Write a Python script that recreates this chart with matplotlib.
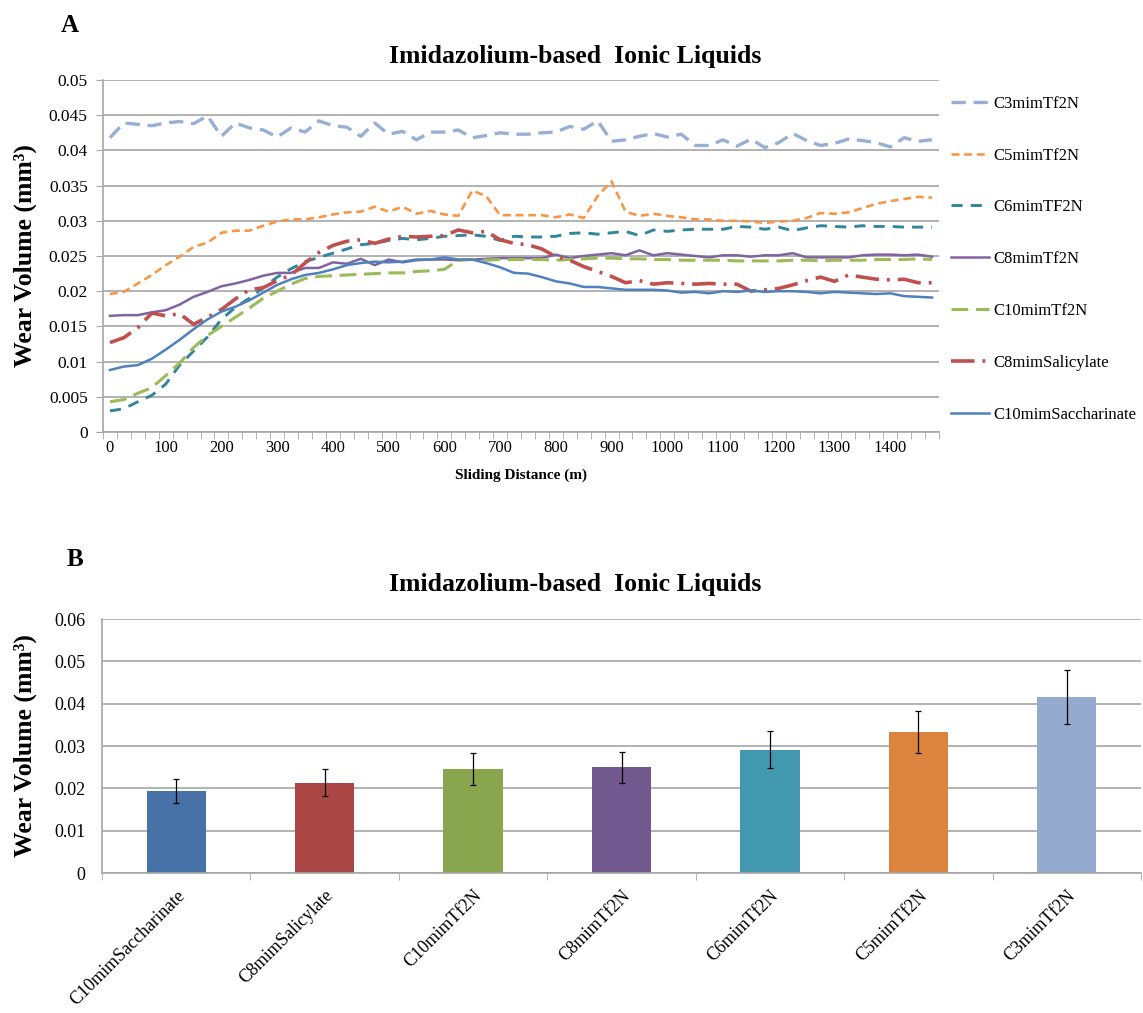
import matplotlib
matplotlib.use('Agg')
import matplotlib.pyplot as plt

plt.rcParams['font.family'] = ['Liberation Serif', 'DejaVu Serif']

# Data: panel A (sliding distance in m, wear volume in mm^3)
distance = list(range(0, 1500, 25))

c3_tf2n = [0.0418, 0.0439, 0.0437, 0.0435, 0.0439, 0.0441, 0.0438, 0.0449, 0.0420, 0.0439,
           0.0432, 0.0429, 0.0419, 0.0432, 0.0426, 0.0442, 0.0435, 0.0433, 0.0420, 0.0439,
           0.0423, 0.0427, 0.0415, 0.0426, 0.0426, 0.0429, 0.0418, 0.0421, 0.0425, 0.0423,
           0.0423, 0.0425, 0.0426, 0.0434, 0.0430, 0.0442, 0.0413, 0.0415, 0.0420, 0.0424,
           0.0419, 0.0423, 0.0407, 0.0407, 0.0415, 0.0406, 0.0416, 0.0404, 0.0411, 0.0424,
           0.0414, 0.0407, 0.0410, 0.0416, 0.0414, 0.0411, 0.0405, 0.0418, 0.0413, 0.0415]
c5_tf2n = [0.0196, 0.0199, 0.0211, 0.0223, 0.0237, 0.0249, 0.0263, 0.0269, 0.0283, 0.0286,
           0.0286, 0.0293, 0.0299, 0.0302, 0.0302, 0.0305, 0.0309, 0.0312, 0.0313, 0.0320,
           0.0313, 0.0320, 0.0310, 0.0314, 0.0309, 0.0307, 0.0343, 0.0335, 0.0308, 0.0308,
           0.0308, 0.0308, 0.0305, 0.0309, 0.0304, 0.0335, 0.0356, 0.0313, 0.0307, 0.0310,
           0.0307, 0.0305, 0.0302, 0.0302, 0.0300, 0.0300, 0.0299, 0.0297, 0.0299, 0.0300,
           0.0304, 0.0311, 0.0310, 0.0312, 0.0318, 0.0324, 0.0328, 0.0331, 0.0334, 0.0333]
c6_tf2n = [0.0030, 0.0033, 0.0043, 0.0052, 0.0068, 0.0095, 0.0115, 0.0135, 0.0160, 0.0177,
           0.0190, 0.0205, 0.0220, 0.0232, 0.0242, 0.0248, 0.0254, 0.0260, 0.0266, 0.0268,
           0.0272, 0.0275, 0.0273, 0.0275, 0.0278, 0.0279, 0.0280, 0.0278, 0.0272, 0.0278,
           0.0277, 0.0277, 0.0278, 0.0282, 0.0283, 0.0281, 0.0283, 0.0285, 0.0279, 0.0287,
           0.0285, 0.0287, 0.0288, 0.0288, 0.0288, 0.0292, 0.0291, 0.0288, 0.0291, 0.0286,
           0.0290, 0.0293, 0.0292, 0.0291, 0.0293, 0.0292, 0.0292, 0.0291, 0.0291, 0.0291]
c8_tf2n = [0.0165, 0.0166, 0.0166, 0.0170, 0.0173, 0.0181, 0.0192, 0.0199, 0.0207, 0.0211,
           0.0216, 0.0222, 0.0226, 0.0226, 0.0233, 0.0233, 0.0241, 0.0239, 0.0246, 0.0237,
           0.0245, 0.0241, 0.0244, 0.0245, 0.0245, 0.0244, 0.0245, 0.0246, 0.0247, 0.0247,
           0.0247, 0.0247, 0.0252, 0.0247, 0.0250, 0.0252, 0.0254, 0.0251, 0.0258, 0.0251,
           0.0254, 0.0252, 0.0250, 0.0248, 0.0251, 0.0251, 0.0249, 0.0251, 0.0251, 0.0254,
           0.0248, 0.0248, 0.0248, 0.0248, 0.0251, 0.0252, 0.0252, 0.0251, 0.0252, 0.0249]
c10_tf2n = [0.0043, 0.0046, 0.0055, 0.0063, 0.0080, 0.0098, 0.0120, 0.0137, 0.0150, 0.0163,
            0.0176, 0.0190, 0.0200, 0.0210, 0.0218, 0.0221, 0.0222, 0.0223, 0.0224, 0.0225,
            0.0226, 0.0226, 0.0228, 0.0229, 0.0231, 0.0244, 0.0245, 0.0244, 0.0245, 0.0245,
            0.0245, 0.0245, 0.0244, 0.0245, 0.0246, 0.0247, 0.0247, 0.0246, 0.0246, 0.0245,
            0.0245, 0.0244, 0.0244, 0.0244, 0.0244, 0.0243, 0.0243, 0.0243, 0.0243, 0.0244,
            0.0244, 0.0243, 0.0244, 0.0244, 0.0244, 0.0245, 0.0245, 0.0245, 0.0246, 0.0245]
c8_salicylate = [0.0127, 0.0134, 0.0148, 0.0169, 0.0165, 0.0168, 0.0153, 0.0163, 0.0174, 0.0189,
                 0.0202, 0.0205, 0.0215, 0.0223, 0.0240, 0.0255, 0.0265, 0.0271, 0.0273, 0.0268,
                 0.0274, 0.0278, 0.0277, 0.0278, 0.0279, 0.0287, 0.0283, 0.0285, 0.0273, 0.0268,
                 0.0266, 0.0260, 0.0249, 0.0244, 0.0235, 0.0228, 0.0221, 0.0212, 0.0215, 0.0210,
                 0.0212, 0.0211, 0.0210, 0.0211, 0.0210, 0.0210, 0.0200, 0.0202, 0.0204, 0.0209,
                 0.0215, 0.0220, 0.0214, 0.0223, 0.0220, 0.0217, 0.0216, 0.0217, 0.0212, 0.0212]
c10_saccharinate = [0.0088, 0.0093, 0.0095, 0.0104, 0.0117, 0.0131, 0.0146, 0.0160, 0.0171, 0.0178,
                    0.0187, 0.0198, 0.0209, 0.0217, 0.0223, 0.0226, 0.0231, 0.0237, 0.0240, 0.0242,
                    0.0241, 0.0242, 0.0245, 0.0245, 0.0248, 0.0245, 0.0245, 0.0240, 0.0234, 0.0226,
                    0.0225, 0.0220, 0.0214, 0.0211, 0.0206, 0.0206, 0.0204, 0.0202, 0.0202, 0.0202,
                    0.0201, 0.0198, 0.0199, 0.0197, 0.0200, 0.0199, 0.0201, 0.0199, 0.0200, 0.0200,
                    0.0199, 0.0197, 0.0199, 0.0198, 0.0197, 0.0196, 0.0197, 0.0193, 0.0192, 0.0191]

# Data: panel B
bar_names = ['C10mimSaccharinate', 'C8mimSalicylate', 'C10mimTf2N', 'C8mimTf2N',
             'C6mimTf2N', 'C5mimTf2N', 'C3mimTf2N']
bar_values = [0.0193, 0.0213, 0.0246, 0.0250, 0.0291, 0.0333, 0.0416]
bar_errors = [0.0028, 0.0032, 0.0037, 0.0037, 0.0044, 0.0050, 0.0063]
bar_colors = ['#4672A8', '#AA4644', '#89A54E', '#71588F', '#4299AF', '#DC843D', '#94AACF']

W, H = 1143, 1013
fig = plt.figure(figsize=(W / 100, H / 100), dpi=100)
grid_col = '#A6A6A6'

def px(left, top, right, bottom):
    return [left / W, 1 - bottom / H, (right - left) / W, (bottom - top) / H]

# ---------------- Panel A ----------------
ax = fig.add_axes(px(103, 80, 939, 432))
series = [
    ('C3mimTf2N', c3_tf2n, '#98AFD5', 2.4, (4.3, 2.3)),
    ('C5mimTf2N', c5_tf2n, '#F79646', 1.9, (3.0, 1.8)),
    ('C6mimTF2N', c6_tf2n, '#31859C', 2.1, (3.8, 2.8)),
    ('C8mimTf2N', c8_tf2n, '#8064A2', 1.8, None),
    ('C10mimTf2N', c10_tf2n, '#9BBB59', 2.2, (5.5, 2.5)),
    ('C8mimSalicylate', c8_salicylate, '#C0504D', 2.6, (6.5, 2.2, 0.8, 2.2)),
    ('C10mimSaccharinate', c10_saccharinate, '#4F81BD', 1.8, None),
]
handles = []
for name, vals, col, lw, dash in series:
    line, = ax.plot(distance, vals, color=col, lw=lw, label=name)
    if dash is not None:
        line.set_dashes(dash)
    handles.append(line)

ax.set_xlim(-12.5, 1487.5)
ax.set_ylim(0, 0.05)
ax.set_yticks([i * 0.005 for i in range(11)])
ax.set_yticklabels(['0', '0.005', '0.01', '0.015', '0.02', '0.025', '0.03',
                    '0.035', '0.04', '0.045', '0.05'])
ax.set_xticks(range(0, 1401, 100))
ax.set_xticks([-12.5 + 25 * k for k in range(61)], minor=True)
ax.tick_params(axis='x', which='major', length=0, labelsize=12, pad=6)
ax.tick_params(axis='x', which='minor', length=5, color=grid_col)
ax.tick_params(axis='y', length=5, color=grid_col, labelsize=12.5, pad=6)
ax.grid(axis='y', color=grid_col, lw=1.2)
ax.set_axisbelow(True)
for s in ['top', 'right']:
    ax.spines[s].set_visible(False)
for s in ['left', 'bottom']:
    ax.spines[s].set_color(grid_col)
    ax.spines[s].set_linewidth(1.2)
ax.set_xlabel('Sliding Distance (m)', fontsize=11, fontweight='bold', labelpad=9)
ax.set_ylabel('Wear Volume (mm³)', fontsize=18.5, fontweight='bold', va='center')
ax.yaxis.set_label_coords(25 / W, 1 - 256 / H, transform=fig.transFigure)

fig.legend(handles=handles, loc='upper left', bbox_to_anchor=(944 / W, 1 - 89 / H),
           frameon=False, fontsize=12, handlelength=2.3, handletextpad=0.25,
           labelspacing=2.15, borderaxespad=0)

fig.text(575 / W, 1 - 57 / H, 'Imidazolium-based  Ionic Liquids', ha='center', va='center',
         fontsize=18.5, fontweight='bold')
fig.text(70 / W, 1 - 25 / H, 'A', ha='center', va='center', fontsize=18, fontweight='bold')

# ---------------- Panel B ----------------
bx = fig.add_axes(px(102, 619, 1141, 873))
pos = list(range(len(bar_names)))
bx.bar(pos, bar_values, width=0.4, color=bar_colors, zorder=2)
bx.errorbar(pos, bar_values, yerr=bar_errors, fmt='none', ecolor='black',
            elinewidth=0.9, capsize=2.5, capthick=0.9, zorder=3)
bx.set_xlim(-0.5, 6.5)
bx.set_ylim(0, 0.06)
bx.set_yticks([i * 0.01 for i in range(7)])
bx.set_yticklabels(['0', '0.01', '0.02', '0.03', '0.04', '0.05', '0.06'])
bx.set_xticks(pos)
bx.set_xticklabels(bar_names, rotation=45, ha='right', rotation_mode='anchor')
bx.set_xticks([k - 0.5 for k in range(8)], minor=True)
bx.tick_params(axis='x', which='major', length=0, labelsize=13, pad=10)
bx.tick_params(axis='x', which='minor', length=5, color=grid_col)
bx.tick_params(axis='y', length=0, labelsize=13, pad=12)
bx.grid(axis='y', color=grid_col, lw=1.2, zorder=0)
bx.set_axisbelow(True)
for s in ['top', 'right']:
    bx.spines[s].set_visible(False)
for s in ['left', 'bottom']:
    bx.spines[s].set_color(grid_col)
    bx.spines[s].set_linewidth(1.2)
bx.set_ylabel('Wear Volume (mm³)', fontsize=18.5, fontweight='bold', va='center')
bx.yaxis.set_label_coords(25 / W, 1 - 746 / H, transform=fig.transFigure)

fig.text(575 / W, 1 - 585 / H, 'Imidazolium-based  Ionic Liquids', ha='center', va='center',
         fontsize=18.5, fontweight='bold')
fig.text(75 / W, 1 - 560 / H, 'B', ha='center', va='center', fontsize=18, fontweight='bold')

fig.savefig('out.png', dpi=100)
